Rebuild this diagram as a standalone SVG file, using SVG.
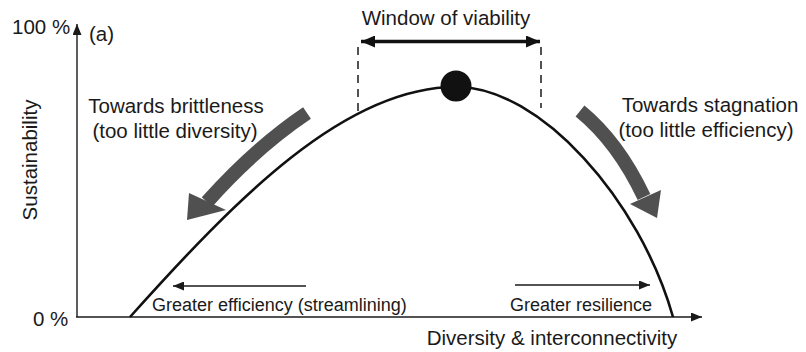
<svg xmlns="http://www.w3.org/2000/svg" width="806" height="352" viewBox="0 0 806 352">
<style>
text{font-family:"Liberation Sans",Arial,Helvetica,sans-serif;fill:#1a1a1a}
.big{font-size:20.5px}
.small{font-size:18px}
.axis{stroke:#1a1a1a;stroke-width:1.4;fill:none}
.curve{stroke:#111;stroke-width:2.6;fill:none}
.dash{stroke:#1a1a1a;stroke-width:1.5;stroke-dasharray:8 6;fill:none}
.thin{stroke:#1a1a1a;stroke-width:1.5;fill:none}
.band{stroke:#505050;stroke-width:14;fill:none}
.head{fill:#505050}
</style>
<defs>
<marker id="ah" markerUnits="userSpaceOnUse" markerWidth="11" markerHeight="9" refX="11" refY="4.5" orient="auto-start-reverse"><path d="M0,0 L11,4.5 L0,9 z" fill="#1a1a1a"/></marker>
<marker id="wa" markerUnits="userSpaceOnUse" markerWidth="14" markerHeight="12" refX="14" refY="6" orient="auto-start-reverse"><path d="M0,0 L14,6 L0,12 z" fill="#111"/></marker>
</defs>
<g id="axes">
<path class="axis" d="M77,317 L77,24" marker-end="url(#ah)"/>
<path class="axis" d="M76,317 L702,317" marker-end="url(#ah)"/>
<text class="big" x="12" y="34">100 %</text>
<text class="big" x="33" y="326">0 %</text>
<text class="big" x="89" y="41">(a)</text>
<text class="big" transform="translate(37,160) rotate(-90)" text-anchor="middle">Sustainability</text>
<text class="big" x="552" y="345" text-anchor="middle">Diversity &amp; interconnectivity</text>
</g>
<g id="curve">
<path class="curve" d="M130,317 C235,200 345,86 457,87 C540,87 640,200 673,317"/>
</g>
<g id="optimum">
<circle cx="456" cy="86" r="15.5" fill="#111"/>
</g>
<g id="window">
<path class="dash" d="M358,47 L358,112"/>
<path class="dash" d="M541,47 L541,108"/>
<text class="big" x="446" y="25" text-anchor="middle">Window of viability</text>
</g>
<g id="brittleness">
<text class="big" x="176" y="113" text-anchor="middle">Towards brittleness</text>
<text class="big" x="175" y="138" text-anchor="middle">(too little diversity)</text>
</g>
<g id="stagnation">
<text class="big" x="710" y="112" text-anchor="middle">Towards stagnation</text>
<text class="big" x="706" y="137" text-anchor="middle">(too little efficiency)</text>
</g>
<g id="efficiency">
<text class="small" x="152" y="311">Greater efficiency (streamlining)</text>
</g>
<g id="resilience">
<text class="small" x="510" y="311">Greater resilience</text>
</g>
<g id="connectors">
<path d="M361,41.5 L540,41.5" stroke="#111" stroke-width="3.5" fill="none" marker-start="url(#wa)" marker-end="url(#wa)"/>
<path class="band" d="M307,113 Q255,148 207,202"/>
<polygon class="head" points="187,220 189,193 226,210"/>
<path class="band" d="M580,111 Q618,142 644,197"/>
<polygon class="head" points="657,218 630,204 661,190"/>
<path class="thin" d="M306,286 L173,286" marker-end="url(#ah)"/>
<path class="thin" d="M515,285 L650,285" marker-end="url(#ah)"/>
</g>
</svg>
